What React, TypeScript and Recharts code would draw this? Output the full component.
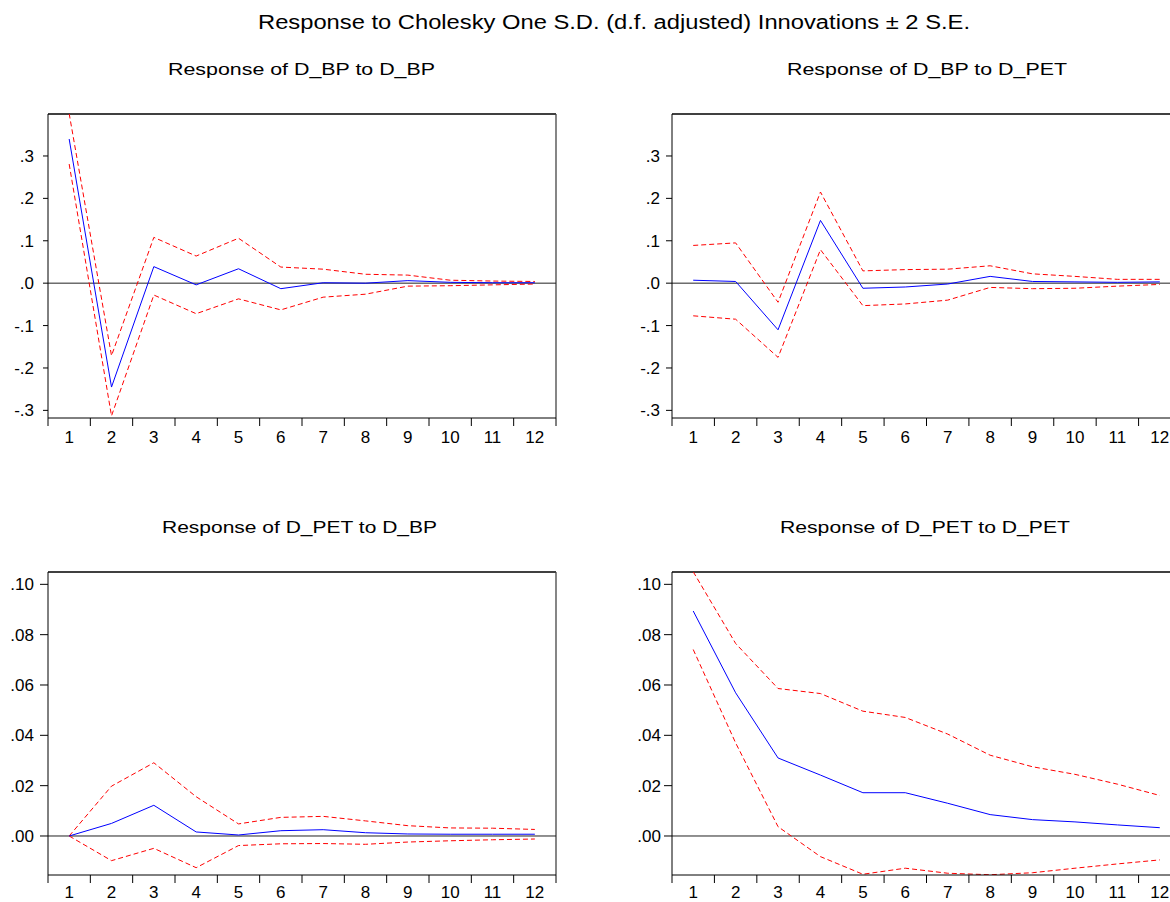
import React from 'react';
import { LineChart, Line, XAxis, YAxis, ReferenceLine } from 'recharts';

const FONT = '"Liberation Sans", Arial, Helvetica, sans-serif';

const periods = [1, 2, 3, 4, 5, 6, 7, 8, 9, 10, 11, 12];
const bandEdges = [0.5, 1.5, 2.5, 3.5, 4.5, 5.5, 6.5, 7.5, 8.5, 9.5, 10.5, 11.5, 12.5];

const mainTitle = 'Response to Cholesky One S.D. (d.f. adjusted) Innovations \u00b1 2 S.E.';
const panelTitles = [
  'Response of D_BP to D_BP',
  'Response of D_BP to D_PET',
  'Response of D_PET to D_BP',
  'Response of D_PET to D_PET',
];

const topTicks = [-0.3, -0.2, -0.1, 0, 0.1, 0.2, 0.3];
const bottomTicks = [0, 0.02, 0.04, 0.06, 0.08, 0.1];

// Response of D_BP to D_BP
const bpBpResp = [0.34, -0.245, 0.039, -0.004, 0.034, -0.013, 0.001, 0.0, 0.006, 0.002, 0.001, 0.001];
const bpBpUpper = [0.4, -0.171, 0.108, 0.064, 0.106, 0.038, 0.033, 0.021, 0.019, 0.007, 0.005, 0.004];
const bpBpLower = [0.281, -0.313, -0.028, -0.072, -0.037, -0.063, -0.033, -0.026, -0.007, -0.006, -0.004, -0.002];

// Response of D_BP to D_PET
const bpPetResp = [0.007, 0.004, -0.11, 0.148, -0.012, -0.009, -0.002, 0.016, 0.004, 0.003, 0.002, 0.003];
const bpPetUpper = [0.089, 0.095, -0.045, 0.215, 0.029, 0.032, 0.033, 0.041, 0.022, 0.016, 0.009, 0.009];
const bpPetLower = [-0.077, -0.085, -0.175, 0.079, -0.053, -0.049, -0.04, -0.01, -0.013, -0.012, -0.007, -0.003];

// Response of D_PET to D_BP
const petBpResp = [0.0, 0.005, 0.0122, 0.0016, 0.0004, 0.0021, 0.0025, 0.0013, 0.0008, 0.0007, 0.0007, 0.0007];
const petBpUpper = [0.0, 0.0198, 0.0291, 0.0156, 0.0048, 0.0074, 0.0078, 0.006, 0.0041, 0.0032, 0.0031, 0.0026];
const petBpLower = [0.0, -0.0098, -0.0049, -0.0126, -0.0038, -0.0031, -0.003, -0.0033, -0.0024, -0.0019, -0.0015, -0.0012];

// Response of D_PET to D_PET
const petPetResp = [0.0894, 0.0569, 0.031, 0.0242, 0.0172, 0.0172, 0.013, 0.0085, 0.0065, 0.0056, 0.0044, 0.0033];
const petPetUpper = [0.105, 0.0765, 0.0586, 0.0566, 0.0496, 0.0471, 0.0405, 0.0321, 0.0275, 0.0245, 0.0206, 0.0161];
const petPetLower = [0.0741, 0.037, 0.0037, -0.0082, -0.0152, -0.0128, -0.0148, -0.0154, -0.0146, -0.0128, -0.0111, -0.0095];

const build = (resp: number[], upper: number[], lower: number[]) =>
  periods.map((p, i) => ({ period: p, resp: resp[i], upper: upper[i], lower: lower[i] }));

const fmt1 = (v: number) => v.toFixed(1).replace('0.', '.');
const fmt2 = (v: number) => v.toFixed(2).replace('0.', '.');

type PanelProps = {
  data: any[];
  left: number;
  top: number;
  width: number;
  height: number;
  marginTop: number;
  yWidth: number;
  plotW: number;
  domain: [number, number];
  ticks: number[];
  fmt: (v: number) => string;
  yTickSize: number;
  yTickMargin: number;
  xTickMargin: number;
};

const Panel = (p: PanelProps) => {
  const halfBand = p.plotW / 24;
  const XTick = (props: any) => {
    const { x, y, payload } = props;
    const v = payload.value;
    if (v > 12) return <g />;
    return (
      <text x={x + halfBand} y={y} dy="0.71em" textAnchor="middle" fontSize={17} fill="#000" fontFamily={FONT}>
        {String(v + 0.5)}
      </text>
    );
  };
  return (
    <div style={{ position: 'absolute', left: p.left, top: p.top }}>
      <LineChart
        width={p.width}
        height={p.height}
        data={p.data}
        margin={{ top: p.marginTop, right: p.width - p.yWidth - p.plotW, bottom: 0, left: 0 }}
      >
        <XAxis
          dataKey="period"
          type="number"
          domain={[0.5, 12.5]}
          ticks={bandEdges}
          interval={0}
          height={42}
          tickSize={8}
          tickMargin={p.xTickMargin}
          tick={XTick}
          stroke="#000"
          allowDataOverflow
        />
        <YAxis
          type="number"
          domain={p.domain}
          ticks={p.ticks}
          interval={0}
          width={p.yWidth}
          tickSize={p.yTickSize}
          tickMargin={p.yTickMargin}
          tickFormatter={p.fmt}
          tick={{ fontSize: 17, fill: '#000', fontFamily: FONT }}
          stroke="#000"
          allowDataOverflow
        />
        <ReferenceLine y={p.domain[1]} stroke="#000" strokeWidth={1.3} />
        <ReferenceLine x={12.5} stroke="#444" strokeWidth={1.3} />
        <ReferenceLine y={0} stroke="#222" strokeWidth={1} />
        <Line dataKey="upper" stroke="#ff0000" strokeWidth={1} strokeDasharray="5 3" dot={false} isAnimationActive={false} />
        <Line dataKey="lower" stroke="#ff0000" strokeWidth={1} strokeDasharray="5 3" dot={false} isAnimationActive={false} />
        <Line dataKey="resp" stroke="#0000ff" strokeWidth={1} dot={false} isAnimationActive={false} />
      </LineChart>
    </div>
  );
};

export default function App() {
  const topDomain: [number, number] = [-0.318, 0.399];
  const bottomDomain: [number, number] = [-0.0155, 0.1049];
  return (
    <div
      style={{
        position: 'absolute',
        left: 0,
        top: 0,
        width: 1170,
        height: 902,
        overflow: 'hidden',
        background: '#fff',
        fontFamily: FONT,
      }}
    >
      <Panel
        data={build(bpBpResp, bpBpUpper, bpBpLower)}
        left={0} top={100} width={600} height={360} marginTop={14}
        yWidth={48} plotW={508} domain={topDomain} ticks={topTicks} fmt={fmt1}
        yTickSize={5} yTickMargin={9} xTickMargin={5}
      />
      <Panel
        data={build(bpPetResp, bpPetUpper, bpPetLower)}
        left={620} top={100} width={620} height={360} marginTop={14}
        yWidth={52} plotW={509} domain={topDomain} ticks={topTicks} fmt={fmt1}
        yTickSize={6} yTickMargin={6} xTickMargin={5}
      />
      <Panel
        data={build(petBpResp, petBpUpper, petBpLower)}
        left={0} top={560} width={600} height={357} marginTop={12}
        yWidth={48} plotW={508} domain={bottomDomain} ticks={bottomTicks} fmt={fmt2}
        yTickSize={8} yTickMargin={6} xTickMargin={3}
      />
      <Panel
        data={build(petPetResp, petPetUpper, petPetLower)}
        left={620} top={560} width={620} height={357} marginTop={12}
        yWidth={52} plotW={509} domain={bottomDomain} ticks={bottomTicks} fmt={fmt2}
        yTickSize={8} yTickMargin={3} xTickMargin={3}
      />
      <svg
        width={1170}
        height={902}
        style={{ position: 'absolute', left: 0, top: 0, pointerEvents: 'none' }}
      >
        <text x={614} y={29.3} textAnchor="middle" fontSize={20} fill="#000" fontFamily={FONT}
          textLength={712} lengthAdjust="spacingAndGlyphs">{mainTitle}</text>
        <text x={301.5} y={75.3} textAnchor="middle" fontSize={17} fill="#000" fontFamily={FONT}
          textLength={267} lengthAdjust="spacingAndGlyphs">{panelTitles[0]}</text>
        <text x={927} y={75.3} textAnchor="middle" fontSize={17} fill="#000" fontFamily={FONT}
          textLength={280} lengthAdjust="spacingAndGlyphs">{panelTitles[1]}</text>
        <text x={299.5} y={532.7} textAnchor="middle" fontSize={17} fill="#000" fontFamily={FONT}
          textLength={275} lengthAdjust="spacingAndGlyphs">{panelTitles[2]}</text>
        <text x={925} y={532.7} textAnchor="middle" fontSize={17} fill="#000" fontFamily={FONT}
          textLength={290} lengthAdjust="spacingAndGlyphs">{panelTitles[3]}</text>
      </svg>
    </div>
  );
}
